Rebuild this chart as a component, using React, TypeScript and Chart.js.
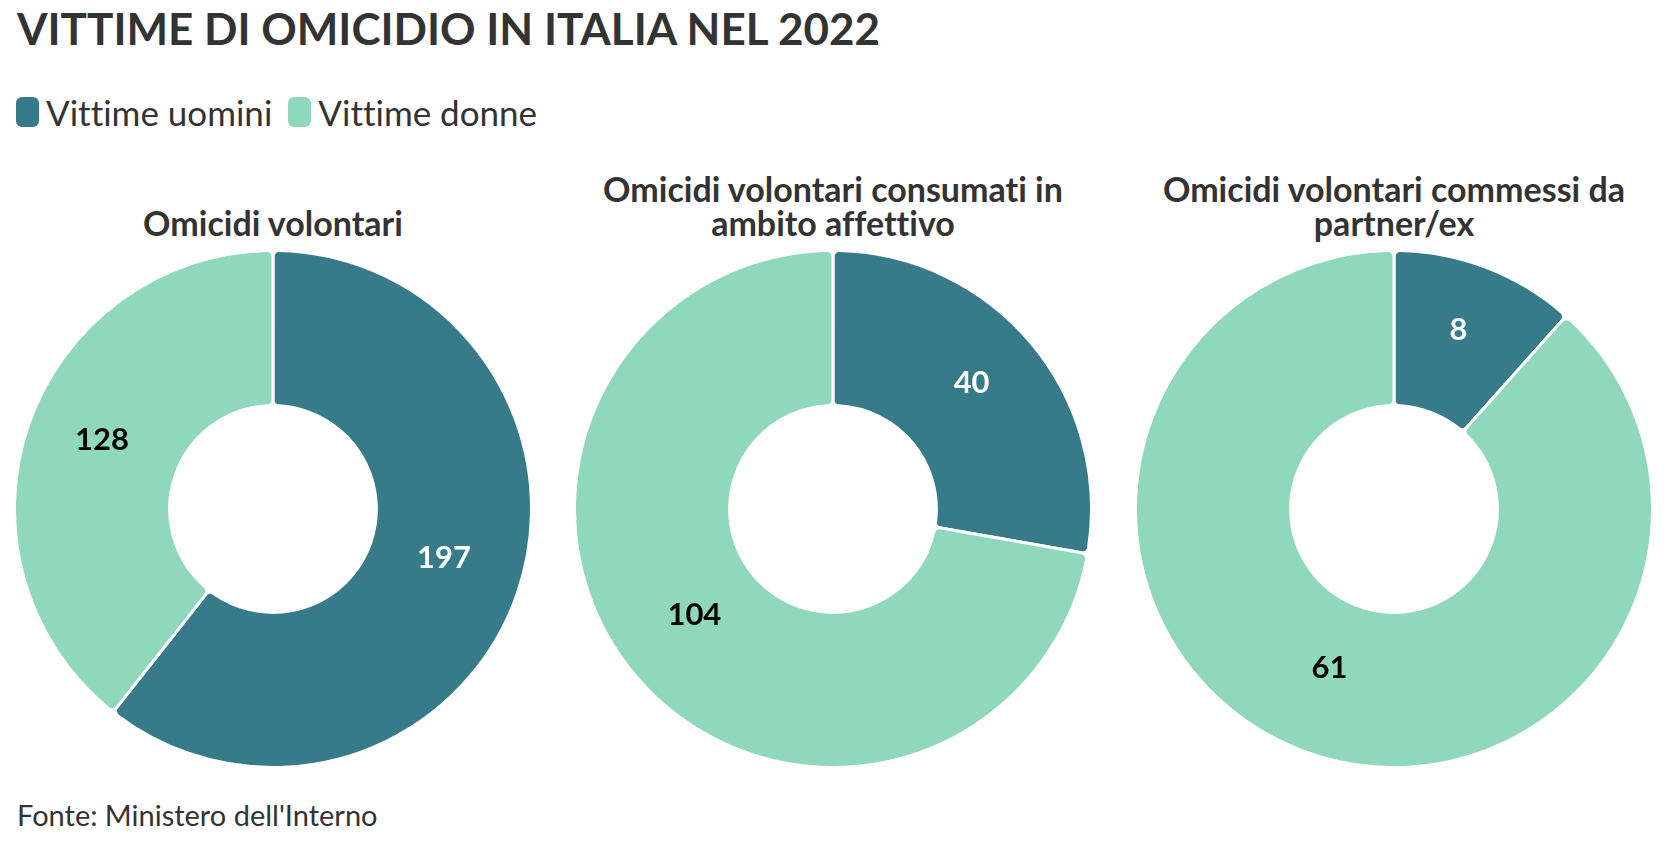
import React, { useEffect, useRef } from "react";
import { Chart, registerables } from "chart.js";

Chart.register(...registerables);

const TITLE = "VITTIME DI OMICIDIO IN ITALIA NEL 2022";
const SOURCE = "Fonte: Ministero dell'Interno";
const SERIES = ["Vittime uomini", "Vittime donne"];
const COLORS = ["#377B8B", "#8FD7BD"];
const LABEL_COLORS = ["#ffffff", "#000000"];
const PANEL_TITLES = [
  ["Omicidi volontari"],
  ["Omicidi volontari consumati in", "ambito affettivo"],
  ["Omicidi volontari commessi da", "partner/ex"],
];
const MEN = [197, 40, 8];
const WOMEN = [128, 104, 61];

const FONT = "Lato, 'Noto Sans', sans-serif";
const TEXT = "#333333";

const PANEL_CENTERS = [273, 833, 1394];
const PIE_CY = 508.5;
const CANVAS = 520;

const valueLabels = {
  id: "valueLabels",
  afterDatasetsDraw(chart: any) {
    const ctx = chart.ctx;
    const meta = chart.getDatasetMeta(0);
    const ds = chart.data.datasets[0];
    ctx.save();
    ctx.font = `bold 31px ${FONT}`;
    ctx.textAlign = "center";
    ctx.textBaseline = "alphabetic";
    meta.data.forEach((arc: any, i: number) => {
      const p = arc.tooltipPosition(false);
      ctx.fillStyle = LABEL_COLORS[i];
      ctx.fillText(String(ds.data[i]), p.x, p.y);
    });
    ctx.restore();
  },
};

function Donut({ index }: { index: number }) {
  const ref = useRef<HTMLCanvasElement | null>(null);
  useEffect(() => {
    if (!ref.current) return;
    const chart = new Chart(ref.current, {
      type: "doughnut",
      data: {
        labels: SERIES,
        datasets: [
          {
            data: [MEN[index], WOMEN[index]],
            backgroundColor: COLORS,
            borderColor: "#ffffff",
            borderWidth: 3,
            borderRadius: 6,
            hoverOffset: 0,
          },
        ],
      },
      options: {
        responsive: false,
        animation: false,
        cutout: "40%",
        rotation: 0,
        layout: { padding: 0 },
        events: [],
        plugins: {
          legend: { display: false },
          tooltip: { enabled: false },
          title: { display: false },
        },
      },
      plugins: [valueLabels],
    });
    return () => chart.destroy();
  }, [index]);
  return (
    <canvas
      ref={ref}
      width={CANVAS}
      height={CANVAS}
      style={{
        position: "absolute",
        left: PANEL_CENTERS[index] - CANVAS / 2,
        top: PIE_CY - CANVAS / 2,
        width: CANVAS,
        height: CANVAS,
      }}
    />
  );
}

export default function App() {
  useEffect(() => {
    document.body.style.margin = "0";
  }, []);
  return (
    <div
      style={{
        position: "relative",
        width: 1664,
        height: 850,
        background: "#ffffff",
        fontFamily: FONT,
        color: TEXT,
        overflow: "hidden",
        fontVariantLigatures: "none",
      }}
    >
      <div
        style={{
          position: "absolute",
          left: 17,
          top: 2,
          fontSize: 44,
          lineHeight: 1.2,
          fontWeight: 700,
          whiteSpace: "nowrap",
        }}
      >
        {TITLE}
      </div>
      <div
        style={{
          position: "absolute",
          left: 16,
          top: 91,
          display: "flex",
          alignItems: "center",
          fontSize: 35,
          lineHeight: 1.2,
          whiteSpace: "nowrap",
        }}
      >
        {SERIES.map((s, i) => (
          <div key={s} style={{ display: "flex", alignItems: "center", marginRight: 16 }}>
            <span
              style={{
                display: "inline-block",
                width: 23,
                height: 30,
                borderRadius: 6,
                background: COLORS[i],
                marginRight: 7,
              }}
            />
            <span>{s}</span>
          </div>
        ))}
      </div>
      {PANEL_TITLES.map((lines, i) => (
        <div
          key={i}
          style={{
            position: "absolute",
            left: PANEL_CENTERS[i] - 290,
            width: 580,
            top: 148,
            height: 92,
            display: "flex",
            flexDirection: "column",
            justifyContent: "flex-end",
            alignItems: "center",
            fontSize: 34,
            lineHeight: "34px",
            fontWeight: 700,
            textAlign: "center",
            whiteSpace: "nowrap",
          }}
        >
          {lines.map((l) => (
            <div key={l}>{l}</div>
          ))}
        </div>
      ))}
      {PANEL_CENTERS.map((_, i) => (
        <Donut key={i} index={i} />
      ))}
      <div
        style={{
          position: "absolute",
          left: 17,
          top: 798,
          fontSize: 29,
          lineHeight: 1.2,
          whiteSpace: "nowrap",
        }}
      >
        {SOURCE}
      </div>
    </div>
  );
}
